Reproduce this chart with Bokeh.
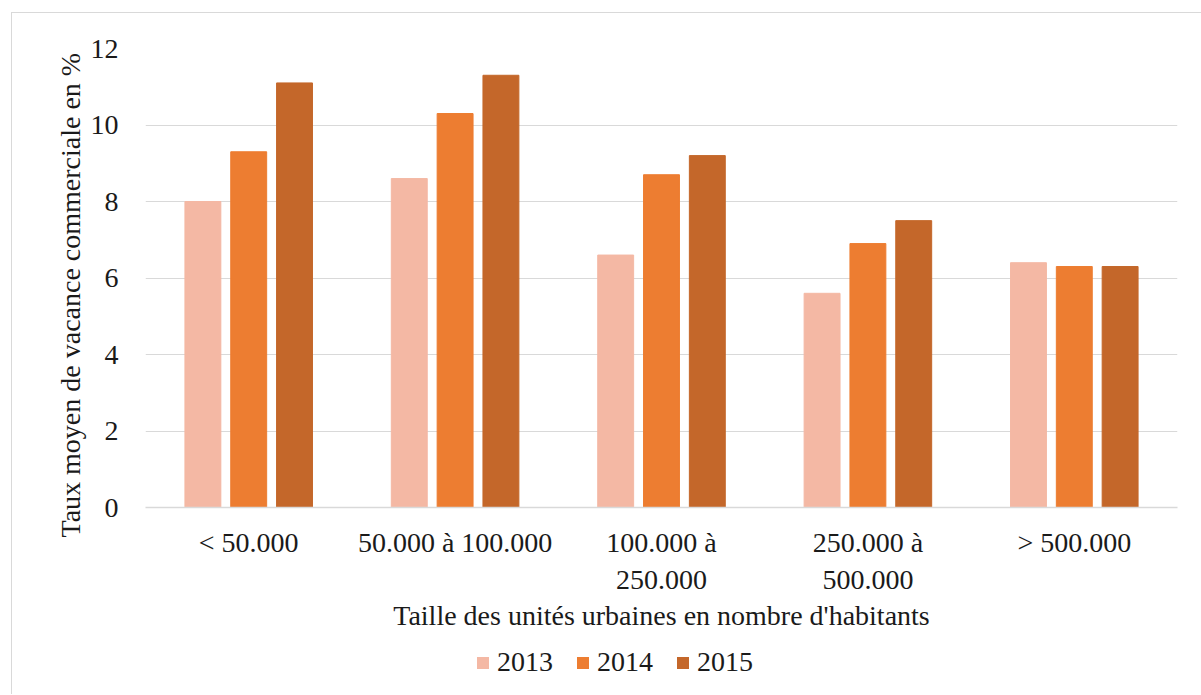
from bokeh.plotting import figure
from bokeh.layouts import column
from bokeh.models import FactorRange, FixedTicker, Legend, LegendItem, Title
from bokeh.transform import dodge
from bokeh.models import ColumnDataSource
from bokeh.embed import file_html
from bokeh.resources import INLINE

categories = ["< 50.000", "50.000 à 100.000", "100.000 à\n250.000", "250.000 à\n500.000", "> 500.000"]
years = ["2013", "2014", "2015"]
v2013 = [8.0, 8.6, 6.6, 5.6, 6.4]
v2014 = [9.3, 10.3, 8.7, 6.9, 6.3]
v2015 = [11.1, 11.3, 9.2, 7.5, 6.3]
colors = ["#F4B8A4", "#ED7D31", "#C4672A"]
y_ticks = [0, 2, 4, 6, 8, 10, 12]

FONT = "Liberation Serif"
FS = "28px"
TXT = "#1a1a1a"

src = ColumnDataSource(dict(cat=categories, v2013=v2013, v2014=v2014, v2015=v2015))

p = figure(x_range=FactorRange(*categories), y_range=(0, 12),
           width=1189, height=628, output_backend="svg", toolbar_location=None,
           min_border_left=133, min_border_right=24, min_border_top=35, min_border_bottom=134)
p.outline_line_color = None
p.x_range.range_padding = 0

renderers = []
for key, off, col in zip(["v2013", "v2014", "v2015"], [-0.222, 0.0, 0.222], colors):
    r = p.vbar(x=dodge("cat", off, range=p.x_range), top=key, width=0.174, source=src,
               fill_color=col, line_color=col, line_width=1)
    renderers.append(r)

p.yaxis.ticker = FixedTicker(ticks=y_ticks)
p.yaxis.axis_line_color = None
p.yaxis.major_tick_line_color = None
p.yaxis.minor_tick_line_color = None
p.yaxis.major_label_text_font = FONT
p.yaxis.major_label_text_font_size = FS
p.yaxis.major_label_text_color = TXT
p.yaxis.major_label_standoff = 21

p.xaxis.axis_line_color = "#d9d9d9"
p.xaxis.axis_line_width = 1.5
p.xaxis.major_tick_line_color = None
p.xaxis.major_label_text_font = FONT
p.xaxis.major_label_text_font_size = FS
p.xaxis.major_label_text_color = TXT
p.xaxis.major_label_standoff = 13
p.xaxis.axis_label = "Taille des unités urbaines en nombre d'habitants"
p.xaxis.axis_label_text_font = FONT
p.xaxis.axis_label_text_font_size = FS
p.xaxis.axis_label_text_font_style = "normal"
p.xaxis.axis_label_text_color = TXT
p.xaxis.axis_label_standoff = 2

p.xgrid.grid_line_color = None
p.ygrid.grid_line_color = "#d9d9d9"
p.ygrid.grid_line_width = 1

yt = Title(text="Taux moyen de vacance commerciale en %", align="left", offset=-30,
           text_font=FONT, text_font_size=FS, text_font_style="normal", text_color=TXT,
           standoff=3)
p.add_layout(yt, "left")

# legend strip
p2 = figure(width=1189, height=53, output_backend="svg", toolbar_location=None,
            x_axis_type=None, y_axis_type=None, x_range=(0, 1), y_range=(0, 1),
            min_border=0)
p2.outline_line_color = None
p2.grid.visible = False
leg_r = [p2.vbar(x=[0.5], top=[0], width=0.0, fill_color=c, line_color=None) for c in colors]
legend = Legend(items=[LegendItem(label=y, renderers=[r]) for y, r in zip(years, leg_r)],
                orientation="horizontal", location=(330, 16),
                label_text_font=FONT, label_text_font_size=FS, label_text_color=TXT,
                glyph_width=15, glyph_height=15, label_standoff=7, spacing=22,
                padding=0, margin=0, border_line_color=None, background_fill_alpha=0)
p2.add_layout(legend, "center")

layout = column(p, p2, spacing=0)
layout.margin = (12, 0, 0, 11)
layout.styles = {"border-left": "1px solid #d9d9d9", "border-top": "1px solid #d9d9d9"}

open("out.html", "w").write(file_html(layout, INLINE))
